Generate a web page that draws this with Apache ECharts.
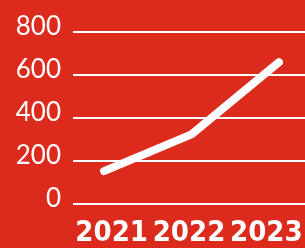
<!DOCTYPE html>
<html><head><meta charset="utf-8">
<script src="https://cdn.jsdelivr.net/npm/echarts@6/dist/echarts.min.js"></script>
<style>html,body{margin:0;padding:0;background:#DC2A1C;}#c{width:305px;height:248px;}</style>
</head><body><div id="c"></div>
<script>
const categories = ['2021', '2022', '2023'];
const values = [155, 325, 660];
const yTicks = [0, 200, 400, 600, 800];

const chart = echarts.init(document.getElementById('c'), null, {renderer: 'canvas'});
chart.setOption({
  backgroundColor: '#DC2A1C',
  animation: false,
  grid: [
    {left: 73, width: 240, top: 32, height: 172.5},
    {left: 104, width: 175, top: 32, height: 172.5}
  ],
  xAxis: [
    {gridIndex: 0, type: 'category', data: categories, boundaryGap: true,
     axisLine: {show: false}, axisTick: {show: false}, splitLine: {show: false},
     axisLabel: {color: '#fff', fontFamily: '"DejaVu Sans Condensed", "DejaVu Sans", sans-serif', fontWeight: 'bold',
                 fontSize: 29, lineHeight: 29, margin: 15, interval: 0}},
    {gridIndex: 1, type: 'category', data: categories, boundaryGap: false, show: false}
  ],
  yAxis: [
    {gridIndex: 0, type: 'value', min: yTicks[0], max: yTicks[yTicks.length - 1], interval: 200,
     axisLine: {show: false}, axisTick: {show: false},
     splitLine: {show: true, lineStyle: {color: '#fff', width: 2}},
     axisLabel: {color: '#fff', fontFamily: 'Lato', fontSize: 26, margin: 12,
                 verticalAlign: 'bottom', lineHeight: 11}},
    {gridIndex: 1, type: 'value', min: yTicks[0], max: yTicks[yTicks.length - 1], show: false}
  ],
  series: [{
    type: 'line', xAxisIndex: 1, yAxisIndex: 1, data: values,
    symbol: 'none',
    lineStyle: {color: '#fff', width: 8, cap: 'round', join: 'round'}
  }]
});
</script></body></html>
